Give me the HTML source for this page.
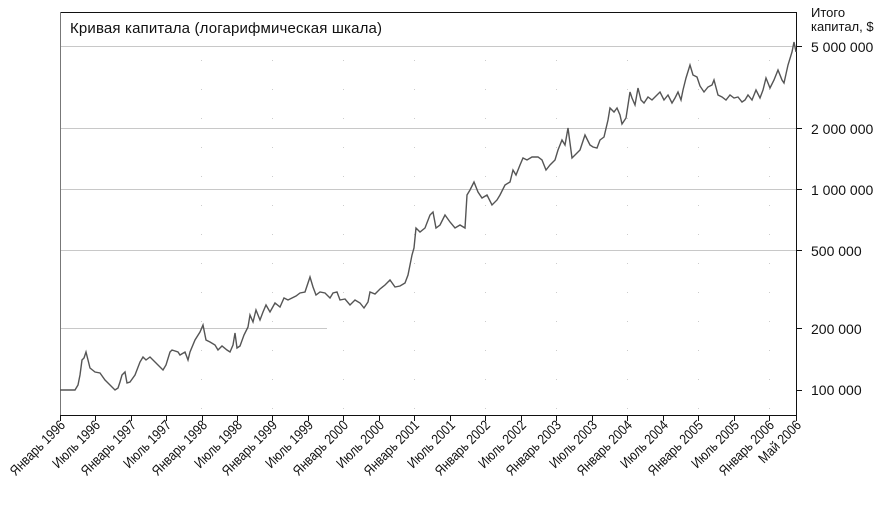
<!DOCTYPE html>
<html><head><meta charset="utf-8"><style>
html,body{margin:0;padding:0;background:#fff;}
svg text{font-family:"Liberation Sans Narrow","Liberation Sans",sans-serif;fill:#111;}
</style></head><body>
<svg width="884" height="503" viewBox="0 0 884 503" xmlns="http://www.w3.org/2000/svg">
<g stroke="#c8c8c8" stroke-width="1">
<line x1="60" y1="46.5" x2="797" y2="46.5"/>
<line x1="60" y1="128.5" x2="797" y2="128.5"/>
<line x1="60" y1="189.5" x2="797" y2="189.5"/>
<line x1="60" y1="250.5" x2="797" y2="250.5"/>
<line x1="60" y1="328.5" x2="327" y2="328.5"/>
</g>
<g stroke="#ccc" stroke-width="1" stroke-dasharray="1,28">
<line x1="201.5" y1="60" x2="201.5" y2="410"/><line x1="272.5" y1="60" x2="272.5" y2="410"/>
<line x1="343.5" y1="60" x2="343.5" y2="410"/><line x1="414.5" y1="60" x2="414.5" y2="410"/>
<line x1="485.5" y1="60" x2="485.5" y2="410"/><line x1="556.5" y1="60" x2="556.5" y2="410"/>
<line x1="627.5" y1="60" x2="627.5" y2="410"/><line x1="698.5" y1="60" x2="698.5" y2="410"/>
<line x1="769.5" y1="60" x2="769.5" y2="410"/>
</g>
<line x1="60" y1="12.5" x2="797" y2="12.5" stroke="#111"/>
<line x1="60.5" y1="12" x2="60.5" y2="416" stroke="#777"/>
<line x1="796.5" y1="12" x2="796.5" y2="416" stroke="#111"/>
<line x1="60" y1="415.5" x2="797" y2="415.5" stroke="#111"/>
<g stroke="#111">
<line x1="797" y1="46.5" x2="802" y2="46.5"/><line x1="797" y1="128.5" x2="802" y2="128.5"/>
<line x1="797" y1="189.5" x2="802" y2="189.5"/><line x1="797" y1="250.5" x2="802" y2="250.5"/>
<line x1="797" y1="328.5" x2="802" y2="328.5"/><line x1="797" y1="390.5" x2="802" y2="390.5"/>
</g>
<text x="70" y="33" font-size="15" textLength="312">Кривая капитала (логарифмическая шкала)</text>
<text x="811" y="17" font-size="13">Итого</text>
<text x="811" y="31" font-size="13">капитал, $</text>
<g font-size="14">
<text x="811" y="52">5 000 000</text><text x="811" y="134">2 000 000</text>
<text x="811" y="195">1 000 000</text><text x="811" y="256">500 000</text>
<text x="811" y="334">200 000</text><text x="811" y="395">100 000</text>
</g>
<polyline fill="none" stroke="#555" stroke-width="1.4" points="60,390 75,390 78,385 80,375 82,360 84,358 86,352 90,368 95,372 100,373 105,380 110,385 115,390 118,388 120,382 122,375 125,372 127,383 130,382 135,375 140,362 143,357 146,360 150,357 155,362 160,367 163,370 166,365 170,352 172,350 178,352 180,355 185,352 188,360 190,352 195,340 200,332 203,325 206,340 210,342 215,345 218,350 222,346 227,350 230,352 233,345 235,333 237,348 240,346 244,335 248,327 250,315 253,322 256,310 260,320 263,312 266,305 270,312 275,303 280,307 284,298 288,300 292,298 296,296 300,293 305,292 310,277 313,287 316,295 320,292 325,293 330,298 333,293 337,292 340,300 345,299 350,305 355,300 360,303 364,308 368,302 370,292 375,294 380,289 385,285 390,280 395,287 400,286 405,283 408,275 412,255 414,248 416,228 420,232 425,228 430,215 433,212 436,228 440,225 445,215 450,222 455,228 460,225 465,228 467,195 470,190 474,182 478,192 482,198 487,195 492,205 497,200 500,195 505,185 510,182 513,170 516,175 520,165 523,158 527,160 532,157 538,157 542,160 546,170 550,165 555,160 558,150 562,140 565,145 568,128 572,158 575,155 580,150 585,135 590,145 593,147 597,148 600,140 604,137 608,120 610,108 614,112 617,108 620,115 622,124 626,118 628,105 630,92 632,98 635,105 638,88 641,100 644,103 648,97 652,100 656,96 660,92 664,100 668,95 672,103 675,98 678,92 681,100 683,90 686,78 690,65 693,75 697,77 700,86 704,92 708,87 712,85 714,80 718,95 722,97 726,100 730,95 734,98 738,97 742,102 745,100 748,95 752,100 756,90 760,98 763,90 766,78 770,88 774,80 778,70 782,80 784,83 788,65 792,52 794,42 796,52"/>
<g stroke="#111">
<line x1="60.5" y1="415" x2="60.5" y2="421"/><line x1="95.5" y1="415" x2="95.5" y2="421"/><line x1="131.5" y1="415" x2="131.5" y2="421"/><line x1="166.5" y1="415" x2="166.5" y2="421"/><line x1="202.5" y1="415" x2="202.5" y2="421"/><line x1="237.5" y1="415" x2="237.5" y2="421"/><line x1="272.5" y1="415" x2="272.5" y2="421"/><line x1="308.5" y1="415" x2="308.5" y2="421"/><line x1="343.5" y1="415" x2="343.5" y2="421"/><line x1="379.5" y1="415" x2="379.5" y2="421"/><line x1="414.5" y1="415" x2="414.5" y2="421"/><line x1="450.5" y1="415" x2="450.5" y2="421"/><line x1="485.5" y1="415" x2="485.5" y2="421"/><line x1="521.5" y1="415" x2="521.5" y2="421"/><line x1="556.5" y1="415" x2="556.5" y2="421"/><line x1="592.5" y1="415" x2="592.5" y2="421"/><line x1="627.5" y1="415" x2="627.5" y2="421"/><line x1="663.5" y1="415" x2="663.5" y2="421"/><line x1="698.5" y1="415" x2="698.5" y2="421"/><line x1="734.5" y1="415" x2="734.5" y2="421"/><line x1="769.5" y1="415" x2="769.5" y2="421"/><line x1="796.5" y1="415" x2="796.5" y2="421"/>
</g>
<g font-size="14" text-anchor="end">
<text transform="translate(66,426) rotate(-45) scale(0.86,1)">Январь 1996</text>
<text transform="translate(101,426) rotate(-45) scale(0.86,1)">Июль 1996</text>
<text transform="translate(137,426) rotate(-45) scale(0.86,1)">Январь 1997</text>
<text transform="translate(172,426) rotate(-45) scale(0.86,1)">Июль 1997</text>
<text transform="translate(208,426) rotate(-45) scale(0.86,1)">Январь 1998</text>
<text transform="translate(243,426) rotate(-45) scale(0.86,1)">Июль 1998</text>
<text transform="translate(278,426) rotate(-45) scale(0.86,1)">Январь 1999</text>
<text transform="translate(314,426) rotate(-45) scale(0.86,1)">Июль 1999</text>
<text transform="translate(349,426) rotate(-45) scale(0.86,1)">Январь 2000</text>
<text transform="translate(385,426) rotate(-45) scale(0.86,1)">Июль 2000</text>
<text transform="translate(420,426) rotate(-45) scale(0.86,1)">Январь 2001</text>
<text transform="translate(456,426) rotate(-45) scale(0.86,1)">Июль 2001</text>
<text transform="translate(491,426) rotate(-45) scale(0.86,1)">Январь 2002</text>
<text transform="translate(527,426) rotate(-45) scale(0.86,1)">Июль 2002</text>
<text transform="translate(562,426) rotate(-45) scale(0.86,1)">Январь 2003</text>
<text transform="translate(598,426) rotate(-45) scale(0.86,1)">Июль 2003</text>
<text transform="translate(633,426) rotate(-45) scale(0.86,1)">Январь 2004</text>
<text transform="translate(669,426) rotate(-45) scale(0.86,1)">Июль 2004</text>
<text transform="translate(704,426) rotate(-45) scale(0.86,1)">Январь 2005</text>
<text transform="translate(740,426) rotate(-45) scale(0.86,1)">Июль 2005</text>
<text transform="translate(775,426) rotate(-45) scale(0.86,1)">Январь 2006</text>
<text transform="translate(802,426) rotate(-45) scale(0.86,1)">Май 2006</text>
</g>
</svg>
</body></html>
